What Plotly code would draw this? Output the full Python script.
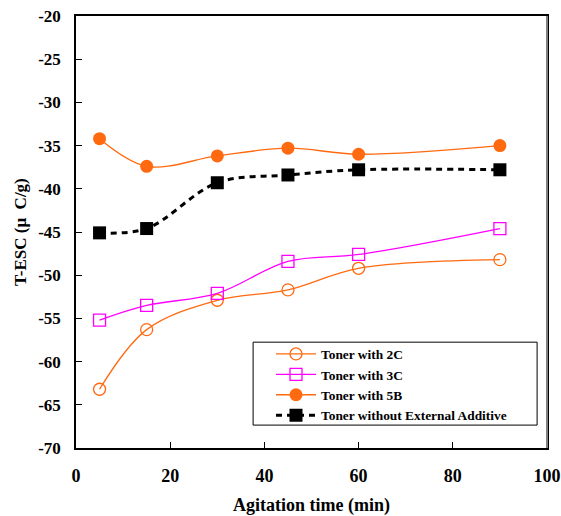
import plotly.graph_objects as go

time_min = [5, 15, 30, 45, 60, 90]
toner_2c = [-63.2, -56.3, -52.9, -51.7, -49.2, -48.2]
toner_3c = [-55.2, -53.5, -52.1, -48.4, -47.6, -44.6]
toner_5b = [-34.2, -37.4, -36.2, -35.3, -36.0, -35.0]
toner_none = [-45.1, -44.6, -39.3, -38.4, -37.8, -37.8]

x_ticks = [0, 20, 40, 60, 80, 100]
y_ticks = list(range(-70, -19, 5))
y_ticktext = [f"<b>{v}</b>" for v in y_ticks]
x_ticktext = [f"<b>{v}</b>" for v in x_ticks]

orange = "#FF6A10"
magenta = "#FF00FF"
font_family = "'Liberation Serif', 'Times New Roman', Times, serif"

fig = go.Figure()
fig.add_trace(go.Scatter(
    x=time_min, y=toner_2c, name="<b>Toner with 2C</b>", mode="lines+markers",
    line=dict(color=orange, width=1.3, shape="spline", smoothing=1),
    marker=dict(symbol="circle-open", size=12, color=orange, line=dict(width=1.3, color=orange)),
))
fig.add_trace(go.Scatter(
    x=time_min, y=toner_3c, name="<b>Toner with 3C</b>", mode="lines+markers",
    line=dict(color=magenta, width=1.3, shape="spline", smoothing=1),
    marker=dict(symbol="square-open", size=12, color=magenta, line=dict(width=1.3, color=magenta)),
))
fig.add_trace(go.Scatter(
    x=time_min, y=toner_5b, name="<b>Toner with 5B</b>", mode="lines+markers",
    line=dict(color=orange, width=1.3, shape="spline", smoothing=1),
    marker=dict(symbol="circle", size=13, color=orange),
))
fig.add_trace(go.Scatter(
    x=time_min, y=toner_none, name="<b>Toner without External Additive</b>", mode="lines+markers",
    line=dict(color="black", width=3, dash="6px,5px", shape="spline", smoothing=1),
    marker=dict(symbol="square", size=13, color="black"),
))

fig.update_layout(
    width=561, height=516,
    margin=dict(l=76, r=14, t=16, b=68, autoexpand=False),
    paper_bgcolor="white", plot_bgcolor="white",
    font=dict(family=font_family, color="black", size=16),
    showlegend=True,
    legend=dict(
        x=0.414, y=0.253, xanchor="left", yanchor="top",
        borderwidth=0, bgcolor="rgba(0,0,0,0)",
        font=dict(family=font_family, size=13.4, color="black"),
        tracegroupgap=0, itemwidth=40,
    ),
    shapes=[
        dict(type="rect", xref="paper", yref="paper",
             x0=0.376, x1=0.979, y0=0.053, y1=0.245,
             line=dict(color="black", width=1), fillcolor="white", layer="above"),
        dict(type="line", xref="paper", yref="paper",
             x0=1, x1=1, y0=0, y1=1,
             line=dict(color="#808080", width=2), layer="above"),
    ],
    xaxis=dict(
        range=[0, 100], tickvals=x_ticks, ticktext=x_ticktext,
        ticks="inside", ticklen=6, tickcolor="black", automargin=False,
        showline=True, linecolor="black", linewidth=1.5, mirror=True,
        showgrid=False, zeroline=False, ticklabelstandoff=11,
        tickfont=dict(family=font_family, size=18),
    ),
    yaxis=dict(
        range=[-70, -20], tickvals=y_ticks, ticktext=y_ticktext,
        ticks="inside", ticklen=6, tickcolor="black", automargin=False,
        showline=True, linecolor="black", linewidth=1.5, mirror=True,
        showgrid=False, zeroline=False, ticklabelstandoff=10,
        tickfont=dict(family=font_family, size=17),
    ),
    annotations=[
        dict(text="<b>Agitation time (min)</b>", xref="paper", yref="paper",
             x=0.5, y=-0.134, xanchor="center", yanchor="middle", showarrow=False,
             font=dict(family=font_family, size=18, color="black")),
        dict(text="<b>T-ESC (μ  C/g)</b>", xref="paper", yref="paper",
             x=-0.119, y=0.5, xanchor="center", yanchor="middle", showarrow=False,
             textangle=-90, font=dict(family=font_family, size=17, color="black")),
    ],
)

fig.write_html("out.html")
